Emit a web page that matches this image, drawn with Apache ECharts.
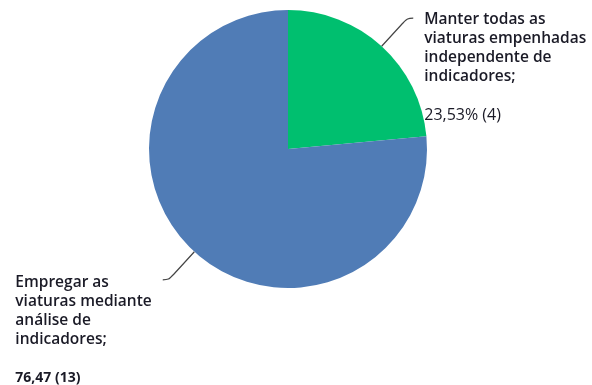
<!DOCTYPE html>
<html>
<head>
<meta charset="utf-8">
<script src="https://cdn.jsdelivr.net/npm/echarts@6/dist/echarts.min.js"></script>
<style>
  html, body { margin: 0; padding: 0; background: #fff; }
  #chart { width: 592px; height: 385px; }
</style>
</head>
<body>
<div id="chart"></div>
<script>
// Answer categories (line breaks as shown in the labels)
const categories = [
  'Manter todas as\nviaturas empenhadas\nindependente de\nindicadores;',
  'Empregar as\nviaturas mediante\nanálise de\nindicadores;'
];
// Number of responses per answer
const counts = [4, 13];
// Value captions printed under each answer
const valueLabels = ['23,53% (4)', '76,47 (13)'];
const colors = ['#00BF6F', '#507CB6'];

const chart = echarts.init(document.getElementById('chart'), null, { renderer: 'canvas' });

function richName(text) {
  return text.split('\n').map(l => '{n|' + l + '}').join('\n');
}

const valueStyles = ['v', 'b'];

const data = categories.map((name, i) => ({
  name: name,
  value: counts[i],
  itemStyle: { color: colors[i] },
  label: {
    formatter: richName(name) + '\n{' + valueStyles[i] + '|' + valueLabels[i] + '}',
    padding: [i === 0 ? 118 : 120, 0, 0, 0]
  }
}));

const FONT = 'Open Sans';
const INK = '#1a1a26';

chart.setOption({
  backgroundColor: '#ffffff',
  animation: false,
  series: [{
    type: 'pie',
    center: [288, 149],
    radius: 139,
    startAngle: 90,
    clockwise: true,
    avoidLabelOverlap: false,
    data: data,
    label: {
      show: true,
      position: 'outside',
      alignTo: 'none',
      overflow: 'none',
      distanceToLabelLine: 11,
      color: INK,
      fontFamily: FONT,
      rich: {
        n: { fontFamily: FONT, fontSize: 15.5, fontWeight: 600, lineHeight: 19, color: INK, align: 'left' },
        v: { fontFamily: FONT, fontSize: 16, lineHeight: 58, color: INK, align: 'left' },
        b: { fontFamily: FONT, fontSize: 14, fontWeight: 'bold', lineHeight: 58, color: INK, align: 'left' }
      }
    },
    labelLine: {
      show: true,
      length: 38,
      length2: 6,
      smooth: 0.35,
      lineStyle: { color: '#444444', width: 1.2 }
    },
    emphasis: { disabled: true }
  }]
});
</script>
</body>
</html>
